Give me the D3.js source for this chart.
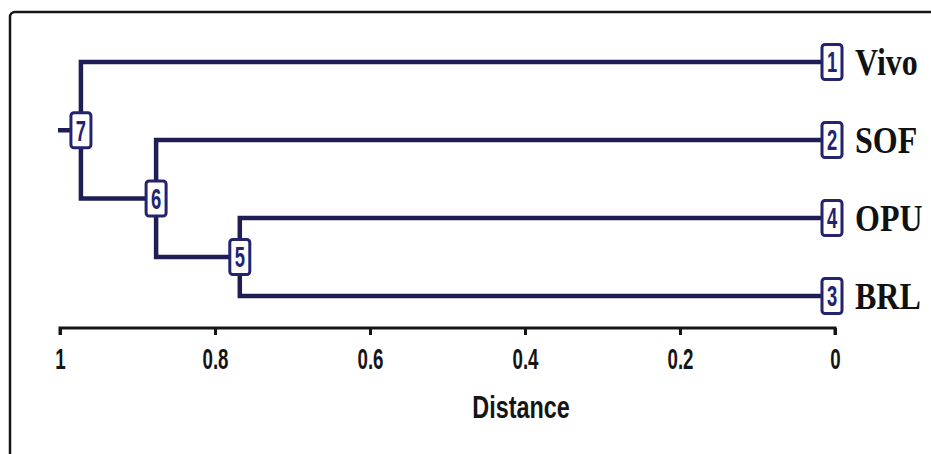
<!DOCTYPE html>
<html lang="en">
<head>
    <meta charset="UTF-8">
    <title>Dendrogram</title>
    <script src="https://cdn.jsdelivr.net/npm/d3@7"></script>
    <style>
        body { margin: 0; background: #fff; }
    </style>
</head>
<body>
<script type="text/javascript">
    // leaves, top to bottom, with their box numbers
    const leafNames = ["Vivo", "SOF", "OPU", "BRL"];
    const leafIds = [1, 2, 4, 3];
    // merges: children joined, node id, distance
    const mergeChildren = [["OPU", "BRL"], ["SOF", 5], ["Vivo", 6]];
    const mergeIds = [5, 6, 7];
    const mergeHeights = [0.768, 0.876, 0.973];
    const tickValues = [1, 0.8, 0.6, 0.4, 0.2, 0];

    const width = 931, height = 454;
    const navy = "#1e1e55";
    const boxNavy = "#23236e";

    const svg = d3.select("body").append("svg")
        .attr("width", width)
        .attr("height", height);

    // frame
    svg.append("rect")
        .attr("x", 10).attr("y", 12)
        .attr("width", 960).attr("height", 480)
        .attr("rx", 5)
        .attr("fill", "none")
        .attr("stroke", "#151515")
        .attr("stroke-width", 2.5);

    const x = d3.scaleLinear().domain([1, 0]).range([60, 835]);
    const y = d3.scalePoint().domain(leafNames).range([62, 296]);

    // build nodes
    const nodes = {};
    leafNames.forEach((n, i) => {
        nodes[n] = {id: leafIds[i], name: n, h: 0, y: y(n)};
    });
    mergeChildren.forEach((kids, i) => {
        const c = kids.map(k => nodes[k]);
        nodes[mergeIds[i]] = {
            id: mergeIds[i], h: mergeHeights[i], children: c,
            y: (c[0].y + c[1].y) / 2
        };
    });
    const all = Object.values(nodes);
    const root = nodes[mergeIds[mergeIds.length - 1]];

    const links = svg.append("g")
        .attr("fill", "none")
        .attr("stroke", navy)
        .attr("stroke-width", 4.5);

    all.filter(d => d.children).forEach(d => {
        d.children.forEach(c => {
            links.append("path")
                .attr("d", `M${x(d.h)},${d.y}V${c.y}H${x(c.h)}`);
        });
    });
    // root stub
    links.append("path")
        .attr("d", `M${x(root.h)},${root.y}H${x(1) - 2}`);

    // boxes
    const bw = 20, bh = 35;
    const box = svg.append("g").selectAll("g")
        .data(all)
        .join("g")
        .attr("transform", d => `translate(${x(d.h) - (d.children ? 0 : 3)},${d.y})`);
    box.append("rect")
        .attr("x", -bw / 2).attr("y", -bh / 2)
        .attr("width", bw).attr("height", bh)
        .attr("rx", 3)
        .attr("fill", "#fff")
        .attr("stroke", boxNavy)
        .attr("stroke-width", 3);
    box.append("text")
        .attr("text-anchor", "middle")
        .attr("dy", "0.36em")
        .attr("transform", "scale(0.8,1.25)")
        .attr("fill", boxNavy)
        .style("font", "bold 23px 'Liberation Sans', sans-serif")
        .text(d => d.id);

    // leaf labels
    svg.append("g").selectAll("text")
        .data(all.filter(d => !d.children))
        .join("text")
        .attr("transform", d => `translate(${x(0) + 20},${d.y}) scale(1,1.2)`)
        .attr("dy", "0.35em")
        .attr("fill", "#111")
        .style("font", "bold 32px 'Liberation Serif', 'Times New Roman', serif")
        .text(d => d.name);

    // axis
    const axis = svg.append("g")
        .attr("transform", "translate(0,328)")
        .call(d3.axisBottom(x).tickValues(tickValues).tickSize(7).tickPadding(12)
            .tickFormat(d => String(d)));
    axis.select(".domain")
        .attr("stroke", "#151515")
        .attr("stroke-width", 3)
        .attr("d", `M${x(1)},7V0H${x(0)}V7`);
    axis.selectAll(".tick line").attr("stroke", "#151515").attr("stroke-width", 3);
    axis.selectAll(".tick text")
        .attr("fill", "#151515")
        .attr("transform", "scale(0.72,1.1)")
        .style("font", "bold 26px 'Liberation Sans', sans-serif");

    svg.append("text")
        .attr("transform", `translate(${x(0.4) - 4},418) scale(0.9,1.2)`)
        .attr("text-anchor", "middle")
        .attr("fill", "#151515")
        .style("font", "bold 26px 'Liberation Sans', sans-serif")
        .text("Distance");
</script>
</body>
</html>
